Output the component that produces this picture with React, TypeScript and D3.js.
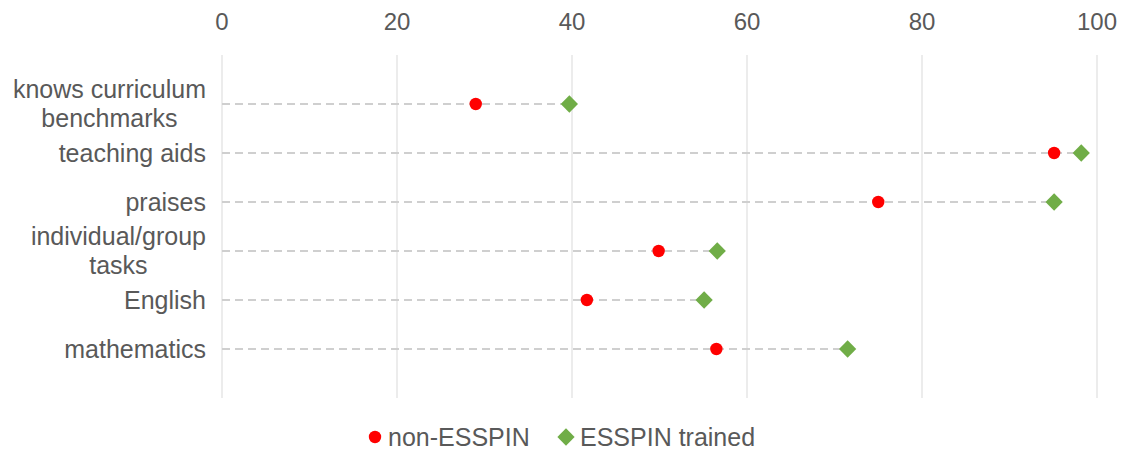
import React from "react";
import * as d3 from "d3";

const categories = [
  "knows curriculum\nbenchmarks",
  "teaching aids",
  "praises",
  "individual/group\ntasks",
  "English",
  "mathematics",
];
const nonEsspin = [29, 95.1, 75, 49.9, 41.7, 56.5];
const esspinTrained = [39.7, 98.2, 95.1, 56.6, 55.1, 71.5];
const xTicks = [0, 20, 40, 60, 80, 100];
const seriesNames = ["non-ESSPIN", "ESSPIN trained"];

const W = 1121;
const H = 450;
const FONT = "'Liberation Sans', Arial, sans-serif";
const FS = 25;
const FS_TICK = 24;
const TEXT = "#595959";
const RED = "#FF0000";
const GREEN = "#70AD47";

function measure(t: string): number {
  const c = document.createElement("canvas").getContext("2d");
  if (!c) return t.length * FS * 0.5;
  c.font = `${FS}px ${FONT}`;
  return c.measureText(t).width;
}

export default function App() {
  const x = d3.scaleLinear().domain([0, 100]).range([222, 1097]);
  const y = d3.scaleLinear().domain([0, 7]).range([55, 398]);
  const labelRight = 206;
  const diamond = d3.symbol().type(d3.symbolDiamond2 ?? d3.symbolDiamond).size(190)();
  const legendY = 437;

  return (
    <svg
      width={W}
      height={H}
      style={{ position: "absolute", left: 0, top: 0, background: "#fff" }}
      fontFamily={FONT}
    >
      {xTicks.map((t) => (
        <g key={t}>
          <line x1={x(t)} x2={x(t)} y1={55} y2={398} stroke="#D9D9D9" strokeWidth={1} />
          <text x={x(t)} y={30} textAnchor="middle" fontSize={FS_TICK} fill={TEXT}>
            {t}
          </text>
        </g>
      ))}
      {categories.map((c, i) => {
        const yy = y(i + 1);
        const lines = c.split("\n");
        const maxW = d3.max(lines, (l) => measure(l)) ?? 0;
        const cx = labelRight - maxW / 2;
        const lh = 29;
        return (
          <g key={c}>
            <line
              x1={x(0)}
              x2={x(Math.max(nonEsspin[i], esspinTrained[i]))}
              y1={yy}
              y2={yy}
              stroke="#CFCFCF"
              strokeWidth={1.8}
              strokeDasharray="8,5"
            />
            {lines.map((l, j) => (
              <text
                key={j}
                x={lines.length > 1 ? cx : labelRight}
                y={yy + (j - (lines.length - 1) / 2) * lh}
                dy="0.35em"
                textAnchor={lines.length > 1 ? "middle" : "end"}
                fontSize={FS}
                fill={TEXT}
              >
                {l}
              </text>
            ))}
            <circle cx={x(nonEsspin[i])} cy={yy} r={6.2} fill={RED} />
            <path d={diamond} transform={`translate(${x(esspinTrained[i])},${yy})`} fill={GREEN} />
          </g>
        );
      })}
      <g>
        <circle cx={375} cy={legendY} r={6.2} fill={RED} />
        <text x={388} y={legendY} dy="0.35em" fontSize={FS} fill={TEXT}>
          {seriesNames[0]}
        </text>
        <path d={diamond} transform={`translate(566,${legendY})`} fill={GREEN} />
        <text x={580} y={legendY} dy="0.35em" fontSize={FS} fill={TEXT}>
          {seriesNames[1]}
        </text>
      </g>
    </svg>
  );
}
